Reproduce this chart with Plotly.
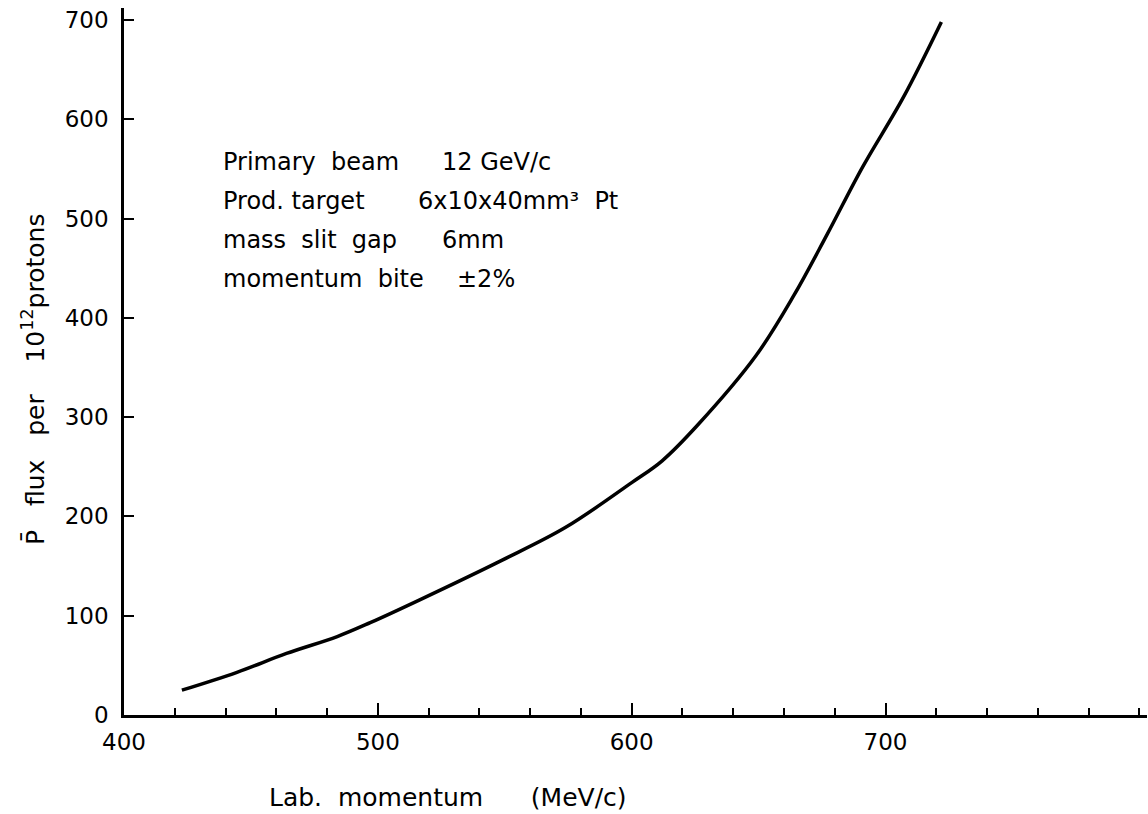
import plotly.graph_objects as go

# Data
momentum = [422.8, 444.5, 464, 484, 497, 516.5, 549, 574, 600, 612, 626, 649, 664, 677, 691, 707, 722]
flux = [25, 43, 62, 79, 93, 116, 156, 189, 234, 256, 292, 362, 423, 484, 552, 622, 698]

x_ticks = [400, 500, 600, 700]
y_ticks = [0, 100, 200, 300, 400, 500, 600, 700]

label_lines = ["Primary\u00a0\u00a0beam", "Prod.\u00a0target", "mass\u00a0\u00a0slit\u00a0\u00a0gap", "momentum\u00a0\u00a0bite"]
value_lines = ["12\u00a0GeV/c", "6x10x40mm\u00b3\u00a0\u00a0Pt", "6mm", "\u00b12%"]

FONT = "DejaVu Sans"
W, H = 1148, 814
L, R, T, B = 124, 1, 8, 99
pw, ph = W - L - R, H - T - B

def px(xp):
    return (xp - L) / pw

def py(yp):
    return (H - B - yp) / ph

fig = go.Figure()
fig.add_trace(go.Scatter(x=momentum, y=flux, mode="lines",
                         line=dict(color="black", width=3.5, shape="spline", smoothing=1.0),
                         showlegend=False, hoverinfo="skip"))

fig.update_layout(
    width=W, height=H,
    margin=dict(l=L, r=R, t=T, b=B, pad=0),
    paper_bgcolor="white", plot_bgcolor="white",
    font=dict(family=FONT, size=22, color="black"),
    xaxis=dict(range=[400, 803], tickvals=x_ticks, ticks="inside", ticklen=12, tickwidth=2,
               tickcolor="black", showline=True, linecolor="black", linewidth=2.5,
               showgrid=False, zeroline=False, ticklabelstandoff=5,
               minor=dict(dtick=20, tick0=400, ticks="inside", ticklen=7, tickwidth=2, tickcolor="black"),
               tickfont=dict(family=FONT, size=23)),
    yaxis=dict(range=[0, 712], tickvals=y_ticks, ticks="inside", ticklen=10, tickwidth=2,
               tickcolor="black", showline=True, linecolor="black", linewidth=2.5,
               showgrid=False, zeroline=False, ticklabelstandoff=8,
               tickfont=dict(family=FONT, size=23)),
)

ann = []
line_y = [162, 201, 240, 279]
value_x = [440, 416, 440, 455]
for i in range(4):
    ann.append(dict(xref="paper", yref="paper", x=px(221), y=py(line_y[i]), text=label_lines[i],
                    showarrow=False, xanchor="left", yanchor="middle", font=dict(size=24)))
    ann.append(dict(xref="paper", yref="paper", x=px(value_x[i]), y=py(line_y[i]), text=value_lines[i],
                    showarrow=False, xanchor="left", yanchor="middle", font=dict(size=24)))

ann.append(dict(xref="paper", yref="paper", x=px(448), y=py(797),
                text="Lab.\u00a0\u00a0momentum\u00a0\u00a0\u00a0\u00a0\u00a0\u00a0(MeV/c)",
                showarrow=False, xanchor="center", yanchor="middle", font=dict(size=25)))
ann.append(dict(xref="paper", yref="paper", x=px(33), y=py(380),
                text="P\u0304\u00a0\u00a0\u00a0flux\u00a0\u00a0\u00a0per\u00a0\u00a0\u00a0\u00a010<sup>12</sup>protons",
                textangle=-90, showarrow=False, xanchor="center", yanchor="middle", font=dict(size=25)))

fig.update_layout(annotations=ann)
fig.write_html("out.html")
